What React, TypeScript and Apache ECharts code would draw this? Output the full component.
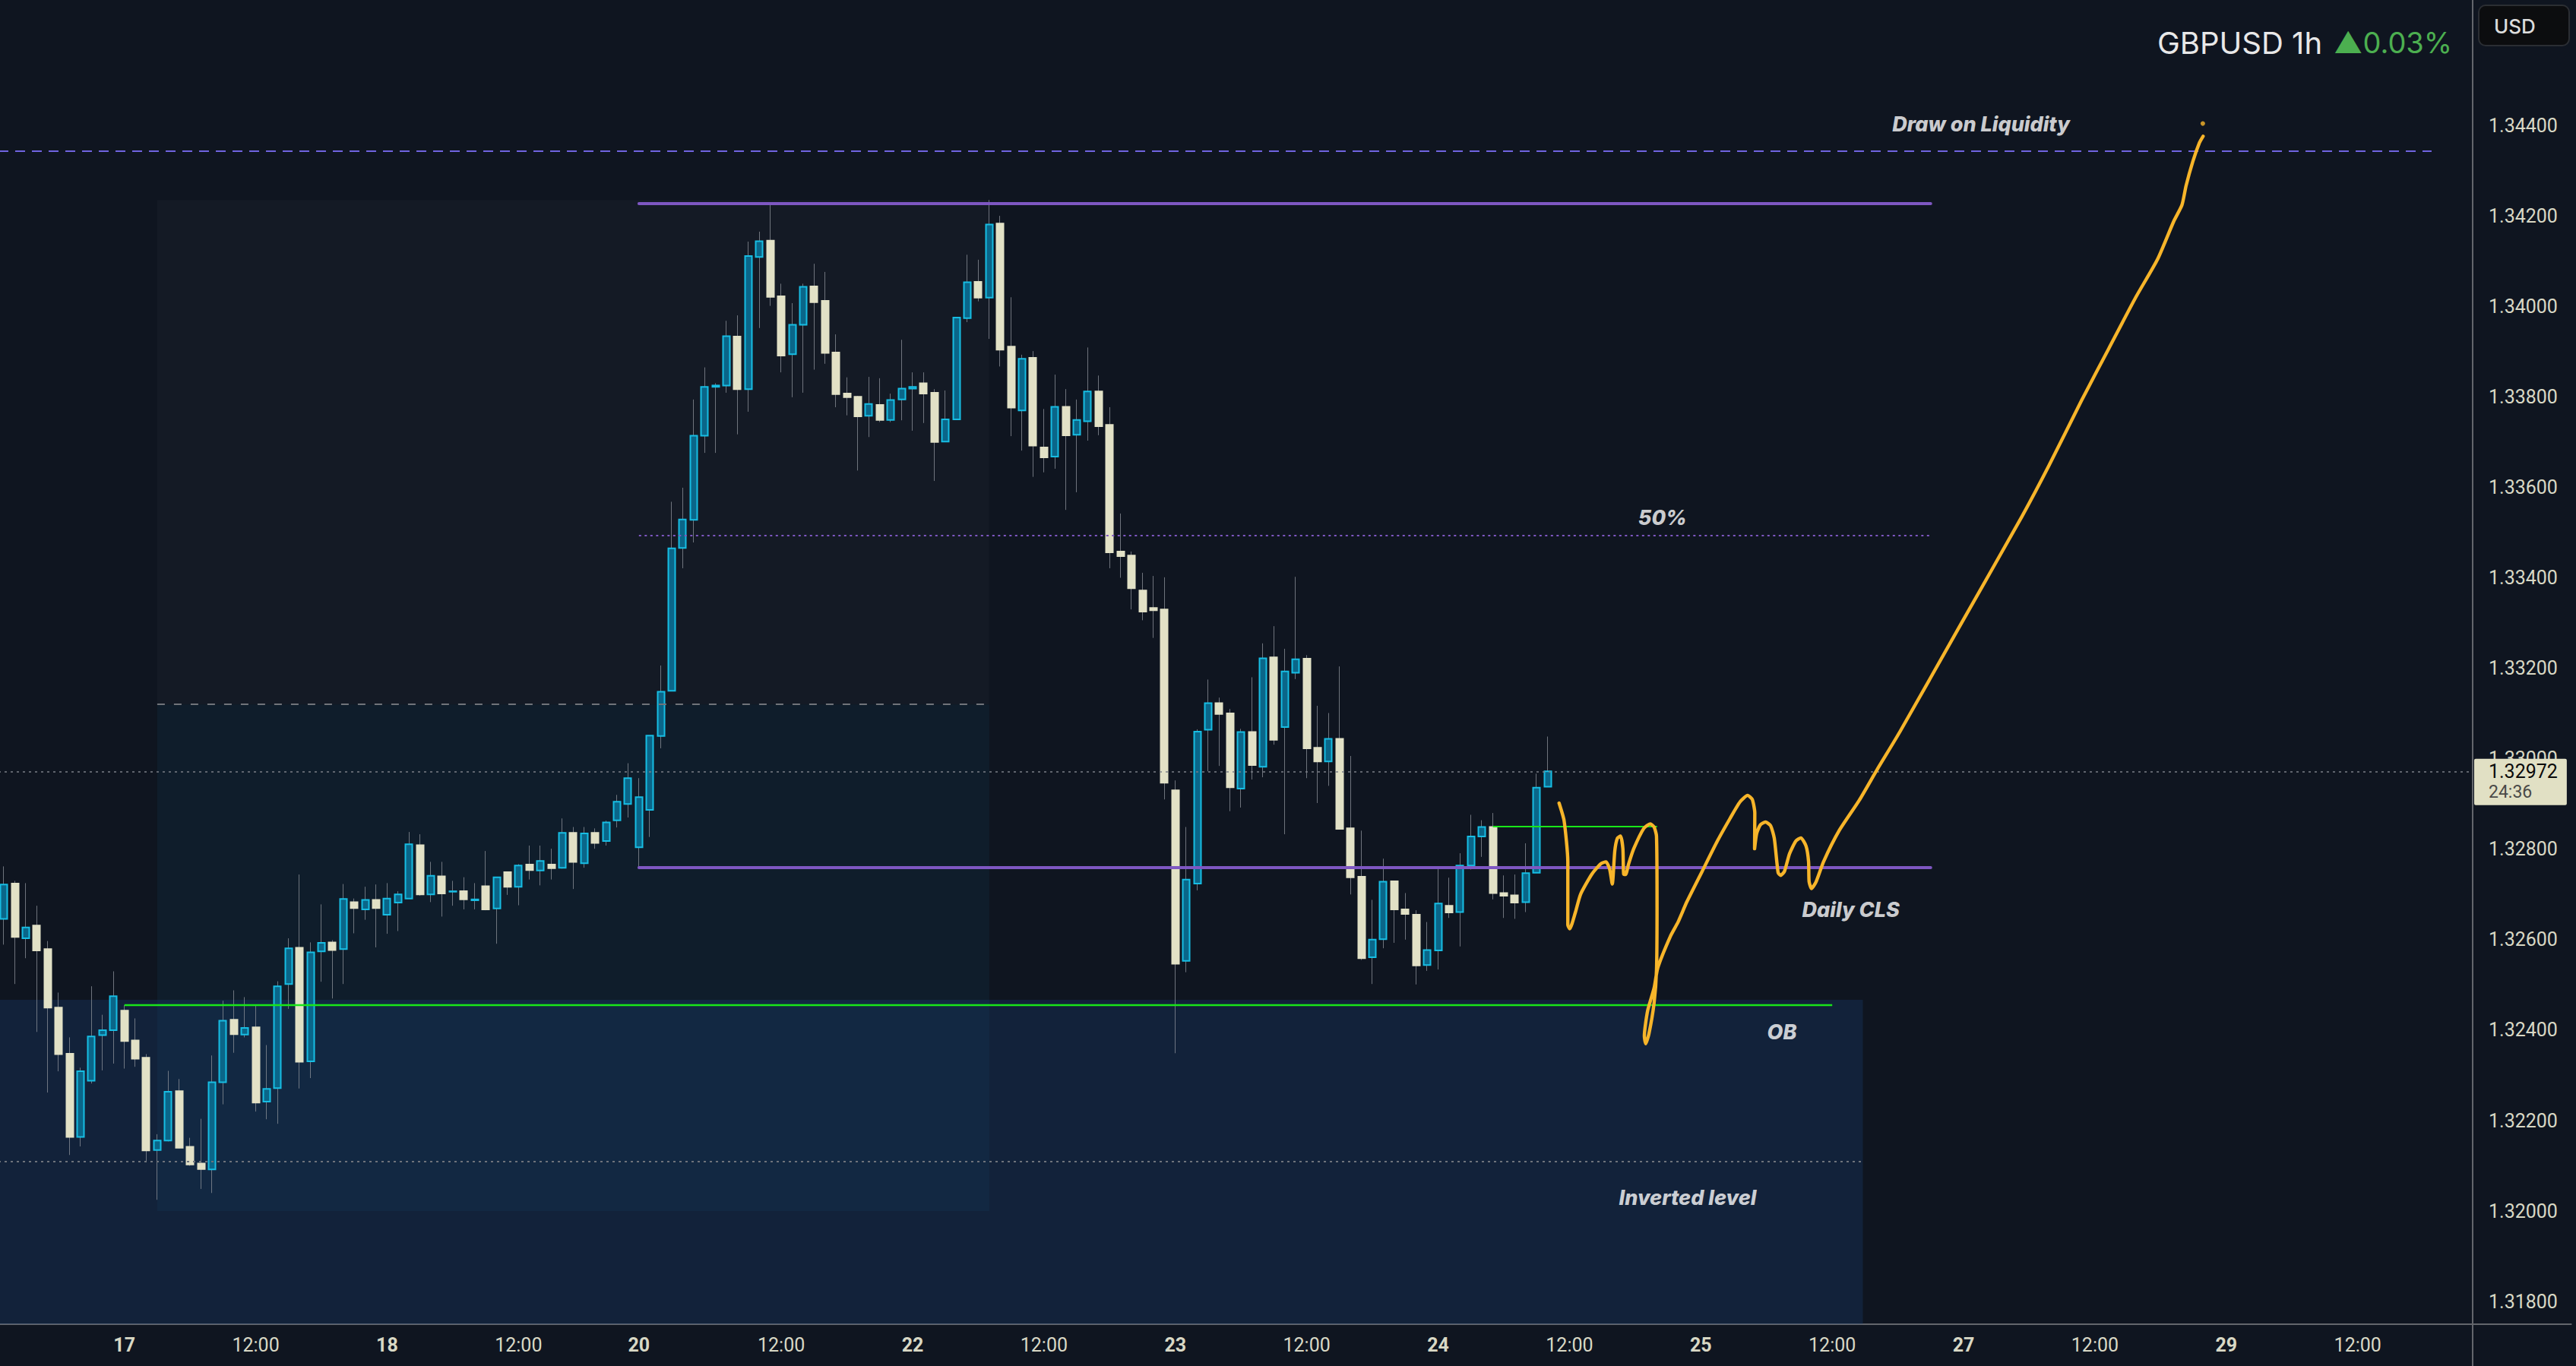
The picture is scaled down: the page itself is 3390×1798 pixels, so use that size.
import React, { useEffect, useRef } from 'react';
import * as echarts from 'echarts';

// ---------- data ----------
const SLOT_COUNT = 235; // hourly slots on the time axis (incl. empty future slots)

const dayTicks: [number, string][] = [
  [11, '17'], [35, '18'], [58, '20'], [83, '22'], [107, '23'],
  [131, '24'], [155, '25'], [179, '27'], [203, '29'],
];
const timeTicks: number[] = [23, 47, 71, 95, 119, 143, 167, 191, 215];
const timeTickText = '12:00';

const opens = [
  1.32646,1.32724,1.32603,1.32631,1.32579,1.32450,1.32348,1.32164,1.32288,1.32389,
  1.32400,1.32443,1.32377,1.32339,1.32135,1.32156,1.32265,1.32142,1.32105,1.32092,
  1.32285,1.32423,1.32390,1.32406,1.32242,1.32272,1.32502,1.32582,1.32331,1.32574,
  1.32594,1.32579,1.32683,1.32667,1.32688,1.32655,1.32682,1.32691,1.32809,1.32700,
  1.32740,1.32706,1.32707,1.32687,1.32718,1.32669,1.32749,1.32717,1.32766,1.32753,
  1.32766,1.32759,1.32836,1.32769,1.32836,1.32818,1.32864,1.32900,1.32804,1.32887,
  1.33050,1.33150,1.33466,1.33528,1.33714,1.33822,1.33825,1.33933,1.33817,1.34109,
  1.34145,1.34022,1.33894,1.33959,1.34044,1.34012,1.33898,1.33807,1.33800,1.33758,
  1.33782,1.33749,1.33794,1.33818,1.33830,1.33809,1.33701,1.33750,1.33974,1.34054,
  1.34019,1.34183,1.33911,1.33770,1.33886,1.33688,1.33668,1.33778,1.33716,1.33746,
  1.33812,1.33738,1.33458,1.33449,1.33372,1.33333,1.33330,1.32930,1.32553,1.32724,
  1.33064,1.33123,1.33100,1.32934,1.33059,1.32982,1.33224,1.33070,1.33190,1.33221,
  1.33024,1.32994,1.33044,1.32846,1.32739,1.32561,1.32601,1.32729,1.32667,1.32655,
  1.32544,1.32576,1.32675,1.32661,1.32764,1.32828,1.32849,1.32703,1.32698,1.32683,
  1.32748,1.32938,
];
const highs = [
  1.32762,1.32730,1.32725,1.32675,1.32597,1.32483,1.32384,1.32317,1.32497,1.32434,
  1.32530,1.32455,1.32426,1.32347,1.32170,1.32310,1.32292,1.32162,1.32204,1.32344,
  1.32465,1.32488,1.32473,1.32456,1.32367,1.32508,1.32603,1.32744,1.32594,1.32678,
  1.32599,1.32723,1.32691,1.32717,1.32722,1.32725,1.32707,1.32838,1.32833,1.32772,
  1.32772,1.32730,1.32738,1.32725,1.32796,1.32739,1.32750,1.32767,1.32808,1.32808,
  1.32801,1.32868,1.32849,1.32849,1.32846,1.32863,1.32920,1.32990,1.32957,1.33051,
  1.33206,1.33568,1.33599,1.33794,1.33865,1.33830,1.33968,1.33980,1.34143,1.34165,
  1.34226,1.34050,1.34007,1.34050,1.34094,1.34076,1.33938,1.33843,1.33802,1.33844,
  1.33841,1.33807,1.33926,1.33854,1.33854,1.33817,1.33814,1.33976,1.34114,1.34103,
  1.34235,1.34200,1.34020,1.33893,1.33901,1.33773,1.33849,1.33817,1.33794,1.33909,
  1.33847,1.33777,1.33542,1.33458,1.33411,1.33404,1.33401,1.32952,1.32849,1.33065,
  1.33175,1.33135,1.33110,1.33066,1.33180,1.33255,1.33293,1.33243,1.33402,1.33229,
  1.33117,1.33101,1.33204,1.33006,1.32841,1.32688,1.32779,1.32730,1.32703,1.32665,
  1.32639,1.32756,1.32737,1.32791,1.32876,1.32864,1.32880,1.32742,1.32744,1.32813,
  1.32967,1.33049,
];
const lows = [
  1.32589,1.32502,1.32559,1.32396,1.32262,1.32309,1.32124,1.32143,1.32282,1.32311,
  1.32326,1.32315,1.32319,1.32110,1.32025,1.32154,1.32139,1.32100,1.32049,1.32040,
  1.32236,1.32350,1.32384,1.32220,1.32203,1.32193,1.32447,1.32271,1.32294,1.32507,
  1.32470,1.32502,1.32614,1.32644,1.32583,1.32613,1.32619,1.32691,1.32697,1.32683,
  1.32651,1.32675,1.32667,1.32667,1.32665,1.32591,1.32699,1.32676,1.32733,1.32720,
  1.32733,1.32757,1.32712,1.32759,1.32801,1.32808,1.32848,1.32870,1.32760,1.32827,
  1.33023,1.33150,1.33421,1.33478,1.33676,1.33676,1.33809,1.33717,1.33767,1.33952,
  1.34001,1.33854,1.33799,1.33809,1.33860,1.33873,1.33777,1.33759,1.33637,1.33711,
  1.33744,1.33744,1.33748,1.33725,1.33742,1.33614,1.33701,1.33749,1.33965,1.34011,
  1.33928,1.33867,1.33713,1.33681,1.33623,1.33633,1.33641,1.33550,1.33589,1.33703,
  1.33715,1.33421,1.33400,1.33330,1.33306,1.33267,1.32910,1.32349,1.32528,1.32709,
  1.32972,1.32984,1.32884,1.32892,1.32954,1.32959,1.33031,1.32833,1.33176,1.32957,
  1.32902,1.32940,1.32845,1.32700,1.32555,1.32502,1.32581,1.32593,1.32600,1.32501,
  1.32531,1.32534,1.32648,1.32585,1.32755,1.32783,1.32689,1.32648,1.32646,1.32661,
  1.32748,1.32938,
];
const closes = [
  1.32722,1.32606,1.32627,1.32576,1.32450,1.32347,1.32164,1.32309,1.32386,1.32400,
  1.32475,1.32376,1.32337,1.32134,1.32156,1.32264,1.32140,1.32103,1.32093,1.32285,
  1.32421,1.32391,1.32405,1.32240,1.32270,1.32497,1.32581,1.32330,1.32572,1.32593,
  1.32577,1.32690,1.32670,1.32688,1.32670,1.32691,1.32700,1.32811,1.32700,1.32741,
  1.32702,1.32707,1.32689,1.32689,1.32667,1.32738,1.32717,1.32764,1.32754,1.32774,
  1.32758,1.32836,1.32772,1.32835,1.32814,1.32859,1.32905,1.32957,1.32915,1.33051,
  1.33148,1.33465,1.33529,1.33714,1.33822,1.33825,1.33934,1.33817,1.34111,1.34144,
  1.34021,1.33891,1.33959,1.34043,1.34009,1.33897,1.33806,1.33799,1.33757,1.33784,
  1.33749,1.33793,1.33818,1.33822,1.33807,1.33700,1.33750,1.33975,1.34053,1.34019,
  1.34181,1.33904,1.33776,1.33884,1.33692,1.33666,1.33778,1.33715,1.33749,1.33812,
  1.33735,1.33456,1.33448,1.33377,1.33325,1.33328,1.32947,1.32547,1.32733,1.33060,
  1.33123,1.33099,1.32937,1.33059,1.32986,1.33222,1.33042,1.33193,1.33220,1.33023,
  1.32994,1.33044,1.32845,1.32738,1.32559,1.32600,1.32728,1.32667,1.32657,1.32543,
  1.32577,1.32680,1.32660,1.32764,1.32828,1.32849,1.32703,1.32697,1.32682,1.32747,
  1.32936,1.32972,
];

// hand-drawn projection (slot position, price)
const pathX = [
  142.05,142.51,142.85,142.85,143.02,143.55,144.01,145.05,145.87,146.33,
  146.67,146.91,147.14,147.37,147.67,147.88,147.95,148.13,148.41,148.87,
  149.79,150.38,150.73,150.95,151.0,150.95,150.73,150.26,149.96,149.84,
  150.14,150.73,151.07,152.23,152.92,153.73,155.12,156.51,157.67,158.59,
  159.28,159.70,159.93,159.91,160.10,160.44,160.90,161.37,161.71,162.06,
  162.29,162.64,163.10,163.68,164.14,164.61,164.84,164.89,165.11,165.53,
  166.22,167.61,169.47,171.08,173.17,178.72,184.32,186.80,189.78,192.25,
  194.73,196.72,198.20,198.95,199.32,199.94,200.55,200.88,
];
const pathY = [
  1.32902,1.32863,1.32773,1.32633,1.32624,1.32661,1.32700,1.32745,1.32768,1.32772,
  1.32756,1.32723,1.32796,1.32824,1.32829,1.32801,1.32745,1.32744,1.32768,1.32801,
  1.32846,1.32856,1.32849,1.32829,1.32672,1.32532,1.32460,1.32392,1.32370,1.32387,
  1.32443,1.32493,1.32538,1.32608,1.32639,1.32684,1.32751,1.32818,1.32868,1.32905,
  1.32919,1.32910,1.32880,1.32801,1.32835,1.32854,1.32860,1.32852,1.32824,1.32748,
  1.32742,1.32751,1.32790,1.32818,1.32825,1.32807,1.32773,1.32728,1.32713,1.32728,
  1.32773,1.32840,1.32908,1.32975,1.33059,1.33296,1.33535,1.33648,1.33792,1.33906,
  1.34020,1.34104,1.34188,1.34224,1.34266,1.34320,1.34362,1.34376,
];
const targetDot: [number, number] = [200.85, 1.34404];

// levels (prices) and their slot spans
const drawOnLiquidity = 1.34344;
const rangeHigh = 1.34227;
const rangeLow = 1.3276; // Daily CLS
const rangeMid = (rangeHigh + rangeLow) / 2; // 50%
const obLine = 1.32455;
const obZoneTop = 1.32467;
const visibleBottom = 1.3175;
const invertedLevel = 1.32109;
const boxTop = 1.34235;
const boxMid = 1.3312;
const boxBottom = 1.32;
const minorHigh = 1.3285;
const lastPrice = 1.32972;
const countdown = '24:36';

const notes: [number, number, string][] = [
  [180.6, 1.34403, 'Draw on Liquidity'],
  [151.5, 1.33533, '50%'],
  [168.7, 1.32666, 'Daily CLS'],
  [162.4, 1.32396, 'OB'],
  [153.8, 1.3203, 'Inverted level'],
];

const symbolName = 'GBPUSD';
const timeframe = '1h';
const changePct = '0.03%';
const currency = 'USD';

// y axis
const yMin = 1.316;
const yMax = 1.348;
const yStep = 0.002;
const yLabelMin = 1.3175;
const yLabelMax = 1.3445;

// ---------- layout / style ----------
const SLOT_W = 14.407;
const GRID_LEFT = -2;
const PLOT_W = SLOT_COUNT * SLOT_W;
const PX_PER_UNIT = 59546;
const GRID_TOP = 165 - (yMax - 1.344) * PX_PER_UNIT;
const GRID_H = (yMax - yMin) * PX_PER_UNIT;
const X_AXIS_Y = 1743;
const Y_AXIS_X = 3254;

const BG = '#0f1520';
const LABEL = '#d8d8c5';
const AXIS_LINE = '#63666c';
const UP_FILL = '#0a6689';
const UP_BORDER = '#17bde3';
const DOWN = '#e2e1c6';
const WICK = '#868b94';
const PURPLE = '#7e57c2';
const YELLOW = '#f7b52a';
const GREEN = '#19e619';

const categories = Array.from({ length: SLOT_COUNT }, (_, i) => String(i));
const dayMap: Record<number, string> = {};
dayTicks.forEach(([i, t]) => (dayMap[i] = t));
const timeSet = new Set(timeTicks);

function seg(x1: number, x2: number, y: number, lineStyle: any, extra: any = {}) {
  return [{ coord: [x1, y], lineStyle, ...extra }, { coord: [x2, y] }];
}

function buildOption() {
  const wickData = opens.map((o, i) => [o, closes[i], lows[i], highs[i]]);
  const bodyData = opens.map((o, i) => [o, closes[i], Math.min(o, closes[i]), Math.max(o, closes[i])]);

  const gridBottomY = GRID_TOP + GRID_H;

  return {
    animation: false,
    backgroundColor: BG,
    grid: {
      left: GRID_LEFT, top: GRID_TOP, width: PLOT_W, height: GRID_H,
      containLabel: false, outerBoundsMode: 'none',
    },
    xAxis: [
      {
        type: 'category',
        data: categories,
        boundaryGap: true,
        offset: X_AXIS_Y - gridBottomY,
        axisLine: { show: true, onZero: false, lineStyle: { color: AXIS_LINE, width: 2 } },
        axisTick: { show: false },
        splitLine: { show: false },
        axisLabel: {
          interval: 0,
          margin: 15,
          fontSize: 25,
          fontFamily: 'Roboto',
          color: LABEL,
          formatter: (_v: string, i: number) =>
            dayMap[i] ? `{d|${dayMap[i]}}` : timeSet.has(i) ? `{t|${timeTickText}}` : '',
          rich: {
            d: { fontSize: 25, fontWeight: 'bold', fontFamily: 'Roboto', color: LABEL },
            t: { fontSize: 25, fontFamily: 'Roboto', color: LABEL },
          },
        },
      },
      { type: 'value', min: -0.5, max: SLOT_COUNT - 0.5, show: false },
    ],
    yAxis: {
      type: 'value',
      position: 'right',
      min: yMin,
      max: yMax,
      interval: yStep,
      offset: Y_AXIS_X - (GRID_LEFT + PLOT_W),
      axisLine: { show: true, onZero: false, lineStyle: { color: AXIS_LINE, width: 2 } },
      axisTick: { show: false },
      splitLine: { show: false },
      axisLabel: {
        margin: 21,
        fontSize: 25,
        fontFamily: 'Roboto',
        color: LABEL,
        formatter: (v: number) => (v < yLabelMin || v > yLabelMax ? '' : v.toFixed(5)),
      },
    },
    graphic: [
      {
        type: 'text', z: 100,
        style: { text: `${symbolName} ${timeframe}`, x: 2839, y: 56, fill: '#e8e8e8', fontSize: 40, fontFamily: 'Inter', verticalAlign: 'middle' },
      },
      {
        type: 'text', z: 100,
        style: { text: `▲${changePct}`, x: 3071, y: 56, fill: '#4caf50', fontSize: 38, fontFamily: 'Inter', verticalAlign: 'middle' },
      },
      {
        type: 'rect', z: 100,
        shape: { x: 3262, y: 7, width: 119, height: 53, r: 9 },
        style: { fill: '#0c0d0f', stroke: '#2b2e33', lineWidth: 2 },
      },
      {
        type: 'text', z: 101,
        style: { text: currency, x: 3282, y: 34, fill: '#dcdcdc', fontSize: 26, fontFamily: 'Inter', fontWeight: 500, verticalAlign: 'middle' },
      },
    ],
    series: [
      {
        name: 'zones',
        type: 'line',
        xAxisIndex: 1,
        data: [[-10, 1.33]],
        symbol: 'none',
        lineStyle: { opacity: 0 },
        silent: true,
        z: 1,
        markArea: {
          silent: true,
          data: [
            [{ coord: [14, boxTop], itemStyle: { color: 'rgba(255,255,255,0.025)' } }, { coord: [90, boxMid] }],
            [{ coord: [14, boxMid], itemStyle: { color: 'rgba(20,110,150,0.10)' } }, { coord: [90, boxBottom] }],
            [{ coord: [-0.5, obZoneTop], itemStyle: { color: 'rgba(30,70,130,0.27)' } }, { coord: [169.8, visibleBottom] }],
          ],
        },
      },
      {
        name: 'wicks',
        type: 'candlestick',
        data: wickData,
        barWidth: 1,
        silent: true,
        z: 3,
        itemStyle: { color: WICK, color0: WICK, borderColor: WICK, borderColor0: WICK, borderWidth: 0.8 },
      },
      {
        name: 'GBPUSD',
        type: 'candlestick',
        data: bodyData,
        barWidth: 9.5,
        silent: true,
        z: 4,
        itemStyle: { color: UP_FILL, color0: DOWN, borderColor: UP_BORDER, borderColor0: DOWN, borderWidth: 2 },
      },
      {
        name: 'levels',
        type: 'line',
        xAxisIndex: 1,
        data: [[-10, 1.33]],
        symbol: 'none',
        lineStyle: { opacity: 0 },
        silent: true,
        z: 5,
        markLine: {
          silent: true,
          symbol: ['none', 'none'],
          label: { show: false },
          data: [
            seg(-0.5, 221.75, drawOnLiquidity, { color: '#7064e0', width: 2.2, type: [13, 9] }),
            seg(58, 176, rangeHigh, { color: PURPLE, width: 3.8, type: 'solid', cap: 'round' }),
            seg(58, 176, rangeLow, { color: PURPLE, width: 3.8, type: 'solid', cap: 'round' }),
            seg(58, 176, rangeMid, { color: PURPLE, width: 2.2, type: [3, 4.5] }),
            seg(14, 90, boxMid, { color: '#70737a', width: 2, type: [10, 12] }),
            seg(11, 167, obLine, { color: GREEN, width: 2.4, type: 'solid' }),
            seg(136, 151, minorHigh, { color: GREEN, width: 1.8, type: 'solid' }),
            seg(-0.5, 169.8, invertedLevel, { color: '#6e737b', width: 2, type: [3, 5] }),
            seg(-0.5, 225.5, lastPrice, { color: '#7b7f87', width: 1.6, type: [3, 5] }, {
              label: {
                show: true,
                position: 'end',
                distance: 2,
                offset: [0, 14],
                formatter: `{p|${lastPrice.toFixed(5)}}\n{t|${countdown}}`,
                backgroundColor: '#e1e0c4',
                borderRadius: 2,
                padding: [3, 12, 4, 19],
                rich: {
                  p: { fontSize: 25, fontFamily: 'Roboto', color: '#0b0b0b', lineHeight: 28 },
                  t: { fontSize: 23, fontFamily: 'Roboto', color: '#4a4a48', lineHeight: 26 },
                },
              },
            }),
          ],
        },
      },
      {
        name: 'projection',
        type: 'line',
        xAxisIndex: 1,
        data: pathX.map((x, i) => [x, pathY[i]]),
        showSymbol: false,
        symbol: 'none',
        smooth: 0.2,
        silent: true,
        z: 6,
        lineStyle: { color: YELLOW, width: 4.4, cap: 'round', join: 'round' },
      },
      {
        name: 'target',
        type: 'scatter',
        xAxisIndex: 1,
        data: [targetDot],
        symbolSize: 6,
        silent: true,
        z: 6,
        itemStyle: { color: YELLOW },
      },
      {
        name: 'notes',
        type: 'scatter',
        xAxisIndex: 1,
        data: notes.map(([x, y, t]) => ({ value: [x, y], name: t })),
        symbolSize: 0,
        silent: true,
        z: 7,
        label: {
          show: true,
          position: 'inside',
          formatter: (p: any) => p.name,
          color: '#ffffff',
          fontSize: 27,
          fontStyle: 'italic',
          fontWeight: 800,
          fontFamily: 'Inter',
        },
      },
    ],
  };
}

export default function App() {
  const ref = useRef<HTMLDivElement>(null);
  useEffect(() => {
    if (!ref.current) return;
    const chart = echarts.init(ref.current, undefined, { renderer: 'svg' });
    chart.setOption(buildOption() as any);
    return () => chart.dispose();
  }, []);
  return (
    <div
      ref={ref}
      style={{ position: 'fixed', left: 0, top: 0, width: 3390, height: 1798, background: BG }}
    />
  );
}
